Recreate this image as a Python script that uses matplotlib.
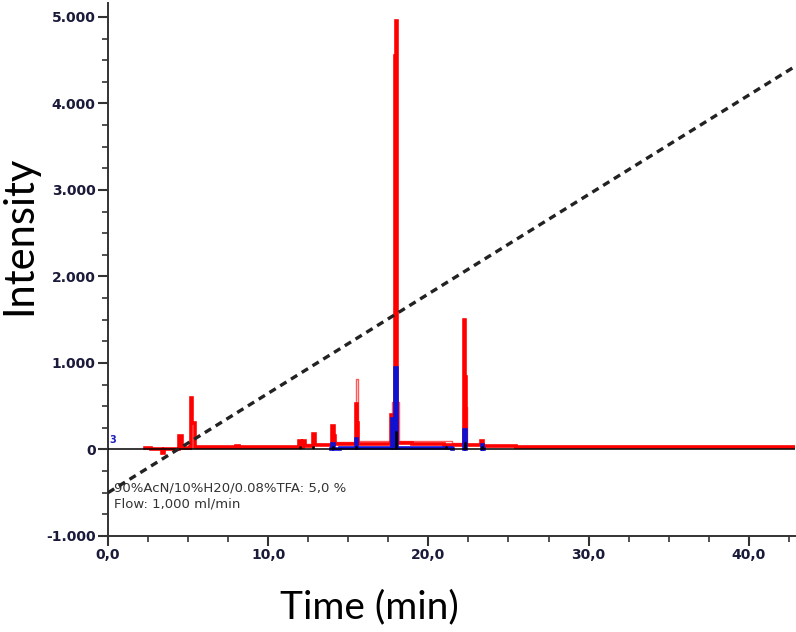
import matplotlib
matplotlib.use('Agg')
import matplotlib.pyplot as plt
from matplotlib.ticker import MultipleLocator, FuncFormatter

nan = float('nan')

# gradient (90%AcN/10%H2O/0.08%TFA), drawn in intensity units
grad_time = [0.0, 42.9]
grad_val = [-500, 4430]

# traces are step data: value holds from its time until the next time
red_time = [2.3, 2.7, 3.35, 3.5, 3.9, 4.45, 4.6, 5.1, 5.2, 5.27, 5.4,
            8.0, 8.15, 11.95, 12.05, 12.2, 12.3, 12.8, 12.95, 14.0, 14.08,
            14.15, 15.5, 15.56, 15.62, 17.65, 17.72, 17.9, 17.98, 18.06,
            19.0, 21.0, 22.22, 22.3, 22.36, 23.3, 23.4, 25.5, 42.9]
red_val = [20, 0, -40, 0, 10, 150, 20, 30, 600, 300, 30,
           40, 25, 100, 30, 100, 40, 180, 50, 270, 150,
           60, 520, 300, 60, 400, 60, 4550, 4950, 70,
           65, 55, 1500, 840, 50, 100, 45, 30, 30]

pink_time = [5.5, 12.0, 14.2, 15.5, 15.58, 17.72, 18.15, 21.5, 22.15, 22.42,
             23.5, 42.9]
pink_val = [20, 60, 85, 820, 95, 550, 95, 80, 490, 65,
            35, 35]

blue_time = [13.9, 14.0, 14.08, 14.5, 15.5, 15.56, 17.7, 17.76, 17.94, 18.06,
             21.5, 21.52, 22.22, 22.25, 22.33, 22.35, 23.33, 23.35, 23.43, 23.45]
blue_val = [0, 60, 0, 15, 120, 15, 350, 15, 940, 15,
            0, nan, 0, 230, 0, nan, 0, 50, 0, nan]

black_time = [0.0, 12.0, 12.06, 12.8, 12.86, 14.05, 14.11, 15.5, 15.56,
              17.97, 18.06, 21.1, 21.16, 22.26, 22.33, 23.35, 23.41, 42.9]
black_val = [0, 30, 0, 30, 0, 30, 0, 30, 0,
             200, 0, 30, 0, 70, 0, 30, 0, 0]

plt.rcParams['font.family'] = ['DejaVu Sans']

fig = plt.figure(figsize=(7.96, 6.32), dpi=100)
ax = fig.add_axes([0.1357, 0.152, 0.8633, 0.843])

ax.plot(pink_time, pink_val, color='#ff5a5a', lw=1.0, drawstyle='steps-post', zorder=2)
ax.plot(red_time, red_val, color='#ff0000', lw=2.6, drawstyle='steps-post',
        solid_joinstyle='miter', zorder=2.5)
ax.plot(blue_time, blue_val, color='#1010d0', lw=2.6, drawstyle='steps-post',
        solid_joinstyle='miter', zorder=3)
ax.plot(black_time, black_val, color='black', lw=1.1, drawstyle='steps-post', zorder=4)
ax.plot(grad_time, grad_val, color='#222222', lw=2.4, ls=(0, (2.2, 1.6)), zorder=5)

ax.text(0.1, 80, '3', color='#2020c0', fontsize=7, fontweight='bold')
ax.text(0.4, -440, '90%AcN/10%H20/0.08%TFA: 5,0 %', fontsize=9.5, color='#333333', va='center')
ax.text(0.4, -630, 'Flow: 1,000 ml/min', fontsize=9.5, color='#333333', va='center')

ax.set_xlim(0, 42.9)
ax.set_ylim(-1000, 5160)

ax.xaxis.set_major_locator(MultipleLocator(10))
ax.xaxis.set_minor_locator(MultipleLocator(2.5))
ax.yaxis.set_major_locator(MultipleLocator(1000))
ax.yaxis.set_minor_locator(MultipleLocator(250))


def fmt_y(v, pos):
    return '{:,.0f}'.format(v).replace(',', '.')


def fmt_x(v, pos):
    return '{:.1f}'.format(v).replace('.', ',')


ax.yaxis.set_major_formatter(FuncFormatter(fmt_y))
ax.xaxis.set_major_formatter(FuncFormatter(fmt_x))

for side in ['top', 'right']:
    ax.spines[side].set_visible(False)
for side in ['left', 'bottom']:
    ax.spines[side].set_color('#333333')
    ax.spines[side].set_linewidth(1.4)

ax.tick_params(which='major', length=7, width=1.5, color='#333333',
               labelsize=10, labelcolor='#1a1a3a', pad=2)
ax.tick_params(which='minor', length=4, width=1.2, color='#333333')
for lbl in ax.get_xticklabels() + ax.get_yticklabels():
    lbl.set_fontweight('bold')

ax.set_ylabel('Intensity', fontsize=30, family=['Lato', 'DejaVu Sans'])
ax.yaxis.set_label_coords(-0.102, 0.565)
ax.set_xlabel('Time (min)', fontsize=28, family=['Lato', 'DejaVu Sans'])
ax.xaxis.set_label_coords(0.381, -0.1)

plt.savefig('out.png', dpi=100)
